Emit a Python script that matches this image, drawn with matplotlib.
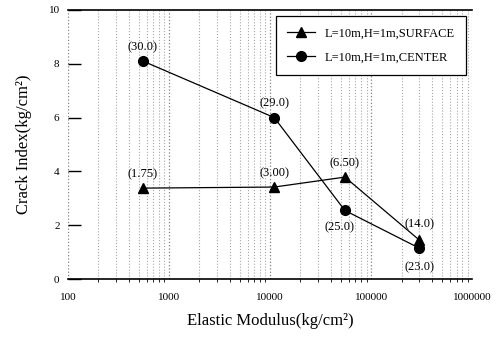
import matplotlib.pyplot as plt
import numpy as np

plt.rcParams['font.family'] = ['Liberation Serif', 'DejaVu Serif']

# data
modulus = [550, 11000, 55000, 300000]
surface = [3.38, 3.42, 3.79, 1.45]
center = [8.1, 6.0, 2.55, 1.15]
surface_tags = ['(1.75)', '(3.00)', '(6.50)', '(14.0)']
center_tags = ['(30.0)', '(29.0)', '(25.0)', '(23.0)']

fig = plt.figure(figsize=(4.96, 3.4), dpi=100)
ax = fig.add_axes([0.137, 0.179, 0.815, 0.792])

ax.plot(modulus, surface, color='black', marker='^', markersize=7, linewidth=0.9,
        label='L=10m,H=1m,SURFACE')
ax.plot(modulus, center, color='black', marker='o', markersize=7, linewidth=0.9,
        label='L=10m,H=1m,CENTER')

# value tags
fs = 9
ax.annotate(surface_tags[0], (modulus[0], surface[0]), xytext=(0, 8), textcoords='offset points', ha='center', fontsize=fs)
ax.annotate(surface_tags[1], (modulus[1], surface[1]), xytext=(0, 8), textcoords='offset points', ha='center', fontsize=fs)
ax.annotate(surface_tags[2], (modulus[2], surface[2]), xytext=(0, 8), textcoords='offset points', ha='center', fontsize=fs)
ax.annotate(surface_tags[3], (modulus[3], surface[3]), xytext=(0, 9), textcoords='offset points', ha='center', fontsize=fs)
ax.annotate(center_tags[0], (modulus[0], center[0]), xytext=(0, 8), textcoords='offset points', ha='center', fontsize=fs)
ax.annotate(center_tags[1], (modulus[1], center[1]), xytext=(0, 8), textcoords='offset points', ha='center', fontsize=fs)
ax.annotate(center_tags[2], (modulus[2], center[2]), xytext=(-4, -14), textcoords='offset points', ha='center', fontsize=fs)
ax.annotate(center_tags[3], (modulus[3], center[3]), xytext=(0, -16), textcoords='offset points', ha='center', fontsize=fs)

ax.set_xscale('log')
ax.set_xlim(100, 1000000)
ax.set_ylim(0, 10)
ax.set_yticks([0, 2, 4, 6, 8, 10])
ax.set_xticks([100, 1000, 10000, 100000, 1000000])
ax.set_xticklabels(['100', '1000', '10000', '100000', '1000000'])
ax.tick_params(axis='x', labelsize=8, length=0, pad=10)
ax.tick_params(axis='y', labelsize=8, direction='in', length=9, width=1, pad=6)

ax.grid(True, which='major', axis='x', color='0.5', linestyle=':', linewidth=0.9)
ax.grid(True, which='minor', axis='x', color='0.65', linestyle=':', linewidth=0.8)

ax.spines['left'].set_visible(False)
ax.spines['right'].set_visible(False)
ax.spines['top'].set_linewidth(1.2)
ax.spines['bottom'].set_linewidth(1.2)

ax.set_xlabel('Elastic Modulus(kg/cm²)', fontsize=12, labelpad=8)
ax.set_ylabel('Crack Index(kg/cm²)', fontsize=12, labelpad=12)

leg = ax.legend(loc='upper right', fontsize=9, fancybox=False, edgecolor='black',
                framealpha=1, borderpad=0.9, labelspacing=1.0, handlelength=2.2)
leg.get_frame().set_linewidth(0.9)

fig.savefig('out.png', dpi=100)
